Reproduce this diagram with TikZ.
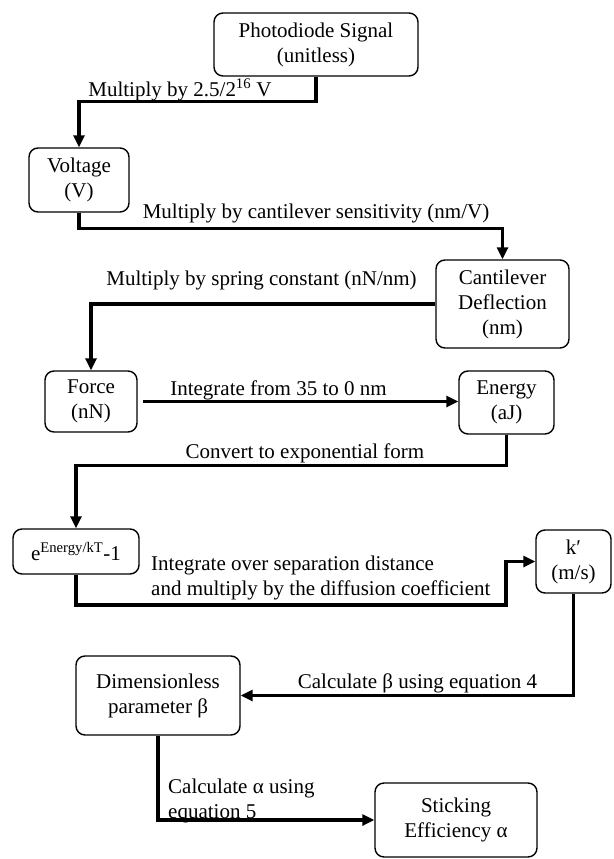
\documentclass[tikz,border=0pt]{standalone}
\usepackage{fontspec}
\setmainfont{Liberation Serif}
\usetikzlibrary{arrows.meta}

\begin{document}
\begin{tikzpicture}[x=1pt, y=-1pt,
  box/.style={draw, line width=1.4pt, rounded corners=9pt, align=center, inner sep=0pt,
    font=\fontsize{21}{25}\selectfont},
  flow/.style={line width=3.5pt, -{Triangle[length=12pt,width=11pt]}},
  remark/.style={inner sep=0pt, font=\fontsize{21}{25}\selectfont}]

\useasboundingbox (0,0) rectangle (613,859);

\node[box, minimum width=204pt, minimum height=63pt] (photo) at (316,44.5) {Photodiode Signal\\(unitless)};
\node[box, minimum width=100pt, minimum height=64pt] (volt) at (79,180) {Voltage\\(V)};
\node[box, minimum width=133pt, minimum height=88pt] (defl) at (502.5,304) {Cantilever\\Deflection\\(nm)};
\node[box, minimum width=92pt, minimum height=61pt] (force) at (91,401.5) {Force\\(nN)};
\node[box, minimum width=95pt, minimum height=63pt] (energy) at (506.5,402.5) {Energy\\(aJ)};
\node[box, minimum width=126pt, minimum height=45pt] (expo) at (76,551.5) {e\textsuperscript{Energy/kT}-1};
\node[box, minimum width=75pt, minimum height=63pt] (kprime) at (573.5,561.5) {k′\\(m/s)};
\node[box, minimum width=164pt, minimum height=79pt] (beta) at (158,695.5) {Dimensionless\\parameter β};
\node[box, minimum width=162pt, minimum height=74pt] (stick) at (456,820) {Sticking\\Efficiency α};

% conversion steps
\draw[flow] (photo.south) -- ++(0,25) -| (volt.north);
\node[remark] (step1) at (180,90) {Multiply by 2.5/2\textsuperscript{16} V};

\draw[flow] (volt.south) -- ++(0,16) -| (defl.north);
\node[remark] (step2) at (316,213) {Multiply by cantilever sensitivity (nm/V)};

\draw[flow] (defl.west) -| (force.north);
\node[remark] (step3) at (261.5,280) {Multiply by spring constant (nN/nm)};

\draw[flow] ([xshift=5pt]force.east) -- (force.east -| energy.west);
\node[remark] (step4) at (278.5,390) {Integrate from 35 to 0 nm};

\draw[flow] (energy.south) -- ++(0,31) -| (expo.north);
\node[remark] (step5) at (305,453) {Convert to exponential form};

\draw[flow] (expo.south) |- (506,605) |- (kprime.west);
\node[remark, align=left, anchor=west] (step6) at (151,578) {Integrate over separation distance\\and multiply by the diffusion coefficient};

\draw[flow] (kprime.south) |- (beta.east);
\node[remark] (step7) at (417.5,683) {Calculate β using equation 4};

\draw[flow] (beta.south) |- (stick.west);
\node[remark, align=left, anchor=west] (step8) at (168,800.5) {Calculate α using\\equation 5};

\end{tikzpicture}
\end{document}
